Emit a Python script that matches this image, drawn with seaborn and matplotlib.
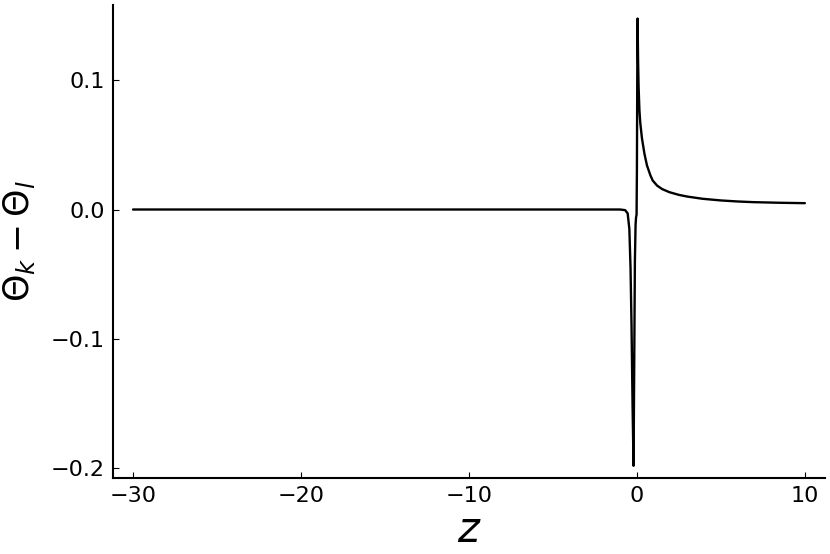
import numpy as np
import pandas as pd
import matplotlib.pyplot as plt
import seaborn as sns

# values
z_vals = [-30.0, -5.0, -1.0, -0.7, -0.55, -0.45, -0.38, -0.32, -0.26, -0.2,
          -0.16, -0.12, -0.08, -0.05, -0.02, 0.0, 0.02, 0.04, 0.07, 0.1,
          0.15, 0.2, 0.3, 0.45, 0.6, 0.8, 0.94, 1.2, 1.5, 1.93, 2.5, 3.0,
          3.9, 5.0, 6.0, 6.9, 8.5, 10.0]
theta_diff = [0.0, 0.0, 0.0, -0.0005, -0.003, -0.015, -0.045, -0.09, -0.15, -0.198,
              -0.12, -0.04, -0.012, -0.006, -0.004, 0.03, 0.10, 0.1475, 0.115, 0.095,
              0.0766, 0.067, 0.055, 0.043, 0.034, 0.0265, 0.0224, 0.0185, 0.0158, 0.0134, 0.0113, 0.0100,
              0.0083, 0.0070, 0.0062, 0.0057, 0.0052, 0.0049]

df = pd.DataFrame({'z': z_vals, 'theta': theta_diff})

sns.set_style("ticks")
plt.rcParams['font.family'] = ['DejaVu Sans']
plt.rcParams['text.color'] = 'black'
plt.rcParams['axes.labelcolor'] = 'black'
plt.rcParams['xtick.color'] = 'black'
plt.rcParams['ytick.color'] = 'black'
plt.rcParams['axes.edgecolor'] = 'black'

fig = plt.figure(figsize=(8.3, 5.54), dpi=100)
ax = fig.add_axes([0.136, 0.137, 0.858, 0.854])

sns.lineplot(data=df, x='z', y='theta', color='black', linewidth=1.7,
             estimator=None, sort=False, ax=ax)

ax.set_xlim(-31.2, 11.2)
ax.set_ylim(-0.2075, 0.158)
ax.set_xticks([-30, -20, -10, 0, 10])
ax.set_yticks([-0.2, -0.1, 0.0, 0.1])
ax.set_yticklabels(['\u22120.2', '\u22120.1', '0.0', '0.1'])
ax.set_xticklabels(['\u221230', '\u221220', '\u221210', '0', '10'])
ax.tick_params(direction='in', length=4, width=0.8, labelsize=16, pad=6)

sns.despine(ax=ax)
for s in ['left', 'bottom']:
    ax.spines[s].set_linewidth(1.5)

ax.set_xlabel('$z$', fontsize=30, labelpad=2)
ax.set_ylabel(r'$\Theta_k - \Theta_l$', fontsize=25, labelpad=10)

fig.savefig('out.png', dpi=100)
